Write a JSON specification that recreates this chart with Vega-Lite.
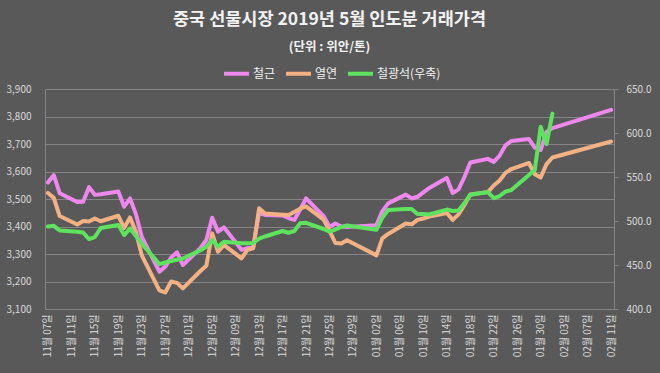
{
  "$schema": "https://vega.github.io/schema/vega-lite/v6.json",
  "width": 569,
  "height": 220,
  "autosize": {"type": "none"},
  "padding": {"left": 45, "top": 89, "right": 46, "bottom": 64},
  "background": "#595959",
  "config": {
    "view": {"stroke": null},
    "font": "Noto Sans CJK KR"
  },
  "title": {
    "text": "중국 선물시장 2019년 5월 인도분 거래가격",
    "subtitle": "(단위 : 위안/톤)",
    "anchor": "middle",
    "frame": "group",
    "font": "Noto Sans CJK KR",
    "fontSize": 17.5,
    "fontWeight": "bold",
    "color": "#f2f2f2",
    "subtitleFont": "Noto Sans CJK KR",
    "subtitleFontSize": 12.5,
    "subtitleFontWeight": "bold",
    "subtitleColor": "#f2f2f2",
    "subtitlePadding": 12,
    "offset": 6
  },
  "data": {
    "values": [
      {"date": "2018/11/07", "철근": 3560, "열연": 3522, "철광석": 493.7},
      {"date": "2018/11/08", "철근": 3587, "열연": 3504, "철광석": 494.5},
      {"date": "2018/11/09", "철근": 3521, "열연": 3438, "철광석": 489.2},
      {"date": "2018/11/12", "철근": 3489, "열연": 3407, "철광석": 487.8},
      {"date": "2018/11/13", "철근": 3490, "열연": 3420, "철광석": 486.9},
      {"date": "2018/11/14", "철근": 3543, "열연": 3418, "철광석": 479.5},
      {"date": "2018/11/15", "철근": 3515, "열연": 3429, "철광석": 481.8},
      {"date": "2018/11/16", "철근": 3517, "열연": 3419, "철광석": 492.0},
      {"date": "2018/11/19", "철근": 3527, "열연": 3439, "철광석": 495.4},
      {"date": "2018/11/20", "철근": 3472, "열연": 3395, "철광석": 484.0},
      {"date": "2018/11/21", "철근": 3502, "열연": 3433, "철광석": 491.5},
      {"date": "2018/11/22", "철근": 3445, "열연": 3380, "철광석": 483.0},
      {"date": "2018/11/23", "철근": 3362, "열연": 3295, "철광석": 474.2},
      {"date": "2018/11/26", "철근": 3236, "열연": 3168, "철광석": 451.0},
      {"date": "2018/11/27", "철근": 3254, "열연": 3160, "철광석": 452.8},
      {"date": "2018/11/28", "철근": 3287, "열연": 3200, "철광석": 454.5},
      {"date": "2018/11/29", "철근": 3306, "열연": 3195, "철광석": 456.0},
      {"date": "2018/11/30", "철근": 3260, "열연": 3175, "철광석": 457.4},
      {"date": "2018/12/03", "철근": 3321, "열연": 3238, "철광석": 466.7},
      {"date": "2018/12/04", "철근": 3351, "열연": 3257, "철광석": 470.8},
      {"date": "2018/12/05", "철근": 3432, "열연": 3375, "철광석": 478.4},
      {"date": "2018/12/06", "철근": 3381, "열연": 3308, "철광석": 470.8},
      {"date": "2018/12/07", "철근": 3397, "열연": 3333, "철광석": 476.5},
      {"date": "2018/12/10", "철근": 3315, "열연": 3284, "철광석": 474.6},
      {"date": "2018/12/11", "철근": 3321, "열연": 3315, "철광석": 474.6},
      {"date": "2018/12/12", "철근": 3327, "열연": 3321, "철광석": 475.0},
      {"date": "2018/12/13", "철근": 3449, "열연": 3466, "철광석": 480.0},
      {"date": "2018/12/14", "철근": 3442, "열연": 3447, "철광석": 482.4},
      {"date": "2018/12/17", "철근": 3440, "열연": 3443, "철광석": 488.6},
      {"date": "2018/12/18", "철근": 3431, "열연": 3442, "철광석": 486.7},
      {"date": "2018/12/19", "철근": 3424, "열연": 3453, "철광석": 488.6},
      {"date": "2018/12/20", "철근": 3462, "열연": 3465, "철광석": 497.4},
      {"date": "2018/12/21", "철근": 3502, "열연": 3473, "철광석": 498.0},
      {"date": "2018/12/24", "철근": 3438, "열연": 3425, "철광석": 490.9},
      {"date": "2018/12/25", "철근": 3398, "열연": 3384, "철광석": 488.0},
      {"date": "2018/12/26", "철근": 3411, "열연": 3340, "철광석": 490.3},
      {"date": "2018/12/27", "철근": 3400, "열연": 3338, "철광석": 493.2},
      {"date": "2018/12/28", "철근": 3398, "열연": 3350, "철광석": 494.9},
      {"date": "2019/01/02", "철근": 3405, "열연": 3295, "철광석": 490.0},
      {"date": "2019/01/03", "철근": 3455, "열연": 3357, "철광석": 503.7},
      {"date": "2019/01/04", "철근": 3484, "열연": 3373, "철광석": 512.5},
      {"date": "2019/01/07", "철근": 3516, "열연": 3411, "철광석": 513.6},
      {"date": "2019/01/08", "철근": 3502, "열연": 3408, "철광석": 513.6},
      {"date": "2019/01/09", "철근": 3508, "열연": 3424, "철광석": 508.0},
      {"date": "2019/01/10", "철근": 3524, "열연": 3429, "철광석": 508.0},
      {"date": "2019/01/11", "철근": 3540, "열연": 3436, "철광석": 507.4},
      {"date": "2019/01/14", "철근": 3576, "열연": 3449, "철광석": 513.0},
      {"date": "2019/01/15", "철근": 3522, "열연": 3424, "철광석": 511.3},
      {"date": "2019/01/16", "철근": 3535, "열연": 3444, "철광석": 511.9},
      {"date": "2019/01/17", "철근": 3580, "열연": 3478, "철광석": 520.4},
      {"date": "2019/01/18", "철근": 3633, "열연": 3516, "철광석": 529.8},
      {"date": "2019/01/21", "철근": 3646, "열연": 3525, "철광석": 532.9},
      {"date": "2019/01/22", "철근": 3635, "열연": 3549, "철광석": 526.0},
      {"date": "2019/01/23", "철근": 3658, "열연": 3567, "철광석": 528.4},
      {"date": "2019/01/24", "철근": 3695, "열연": 3595, "철광석": 533.3},
      {"date": "2019/01/25", "철근": 3711, "열연": 3609, "철광석": 535.2},
      {"date": "2019/01/28", "철근": 3718, "열연": 3631, "철광석": 552.2},
      {"date": "2019/01/29", "철근": 3687, "열연": 3590, "철광석": 558.0},
      {"date": "2019/01/30", "철근": 3678, "열연": 3578, "철광석": 607.0},
      {"date": "2019/01/31", "철근": 3744, "열연": 3627, "철광석": 587.5},
      {"date": "2019/02/01", "철근": 3758, "열연": 3651, "철광석": 622.0},
      {"date": "2019/02/11", "철근": 3824, "열연": 3709, "철광석": null}
    ]
  },
  "encoding": {
    "x": {
      "field": "date",
      "type": "temporal",
      "scale": {
        "domain": [
          {"year": 2018, "month": 11, "date": 6, "hours": 12},
          {"year": 2019, "month": 2, "date": 11, "hours": 12}
        ]
      },
      "axis": {
        "title": null,
        "format": "%m월 %d일",
        "labelAngle": -90,
        "labelFontSize": 10,
        "labelColor": "#d9d9d9",
        "labelPadding": 5,
        "domain": false,
        "ticks": false,
        "grid": false,
        "labelOverlap": false,
        "labelFlush": false,
        "values": [
          {"year": 2018, "month": 11, "date": 7},
          {"year": 2018, "month": 11, "date": 11},
          {"year": 2018, "month": 11, "date": 15},
          {"year": 2018, "month": 11, "date": 19},
          {"year": 2018, "month": 11, "date": 23},
          {"year": 2018, "month": 11, "date": 27},
          {"year": 2018, "month": 12, "date": 1},
          {"year": 2018, "month": 12, "date": 5},
          {"year": 2018, "month": 12, "date": 9},
          {"year": 2018, "month": 12, "date": 13},
          {"year": 2018, "month": 12, "date": 17},
          {"year": 2018, "month": 12, "date": 21},
          {"year": 2018, "month": 12, "date": 25},
          {"year": 2018, "month": 12, "date": 29},
          {"year": 2019, "month": 1, "date": 2},
          {"year": 2019, "month": 1, "date": 6},
          {"year": 2019, "month": 1, "date": 10},
          {"year": 2019, "month": 1, "date": 14},
          {"year": 2019, "month": 1, "date": 18},
          {"year": 2019, "month": 1, "date": 22},
          {"year": 2019, "month": 1, "date": 26},
          {"year": 2019, "month": 1, "date": 30},
          {"year": 2019, "month": 2, "date": 3},
          {"year": 2019, "month": 2, "date": 7},
          {"year": 2019, "month": 2, "date": 11}
        ]
      }
    }
  },
  "layer": [
    {
      "transform": [{"fold": ["철근", "열연"], "as": ["series", "value"]}],
      "mark": {"type": "line", "strokeWidth": 4, "strokeJoin": "round", "strokeCap": "round"},
      "encoding": {
        "y": {
          "field": "value",
          "type": "quantitative",
          "scale": {"domain": [3100, 3900], "nice": false, "zero": false},
          "axis": {
            "title": null,
            "orient": "left",
            "values": [3100, 3200, 3300, 3400, 3500, 3600, 3700, 3800, 3900],
            "format": ",d",
            "labelFontSize": 10,
            "labelColor": "#d9d9d9",
            "labelPadding": 14,
            "ticks": false,
            "domain": true,
            "domainColor": "#858585",
            "grid": true,
            "gridColor": "#858585",
            "gridWidth": 1
          }
        },
        "color": {
          "field": "series",
          "type": "nominal",
          "scale": {
            "domain": ["철근", "열연", "철광석(우축)"],
            "range": ["#ee88ee", "#f4b183", "#5ee35e"]
          },
          "legend": {
            "title": null,
            "orient": "none",
            "legendX": 177,
            "legendY": -30,
            "direction": "horizontal",
            "symbolType": "stroke",
            "symbolStrokeWidth": 4,
            "symbolSize": 625,
            "labelFontSize": 12,
            "labelColor": "#f2f2f2",
            "labelOffset": 2,
            "columnPadding": 2
          }
        }
      }
    },
    {
      "mark": {"type": "line", "strokeWidth": 4, "strokeJoin": "round", "strokeCap": "round"},
      "encoding": {
        "y": {
          "field": "철광석",
          "type": "quantitative",
          "scale": {"domain": [400, 650], "nice": false, "zero": false},
          "axis": {
            "title": null,
            "orient": "right",
            "values": [400, 450, 500, 550, 600, 650],
            "format": ".1f",
            "labelFontSize": 10,
            "labelColor": "#d9d9d9",
            "labelPadding": 8,
            "ticks": true,
            "tickSize": 4,
            "tickColor": "#858585",
            "domain": true,
            "domainColor": "#858585",
            "grid": false
          }
        },
        "color": {"datum": "철광석(우축)", "type": "nominal"}
      }
    }
  ],
  "resolve": {"scale": {"y": "independent"}, "axis": {"y": "independent"}}
}
